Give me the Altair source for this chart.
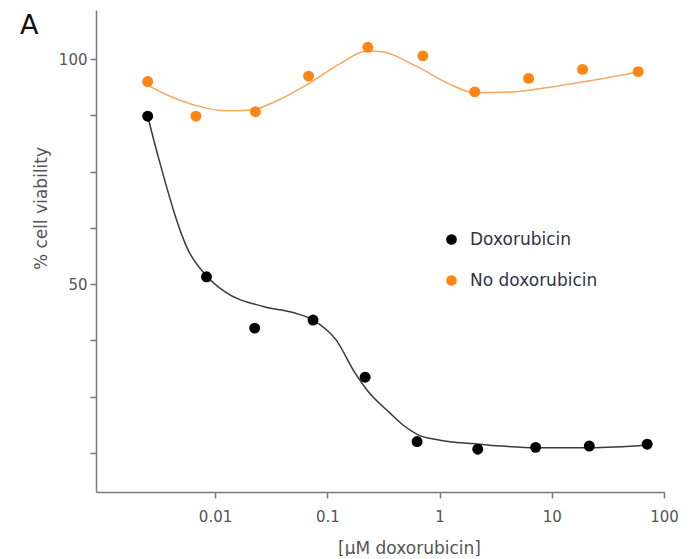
import altair as alt
import pandas as pd

# Measured points
dox_x = [0.00251, 0.00839, 0.02254, 0.0746, 0.2173, 0.631, 2.19, 7.18, 21.6, 70.8]
dox_y = [87.3, 51.6, 40.2, 42.0, 29.3, 15.0, 13.3, 13.7, 14.0, 14.4]
nodox_x = [0.00251, 0.00675, 0.0229, 0.0681, 0.2296, 0.710, 2.06, 6.22, 18.8, 58.9]
nodox_y = [95.0, 87.3, 88.3, 96.2, 102.6, 100.7, 92.7, 95.7, 97.7, 97.2]

# Fitted curves
dox_curve_x = [0.00251, 0.00317, 0.00574, 0.00839, 0.01219, 0.0268, 0.0506, 0.0746,
               0.1197, 0.177, 0.2265, 0.363, 0.483, 0.631, 1.01, 2.075, 3.47, 7.26, 22.0, 72.3]
dox_curve_y = [87.3, 77.6, 57.6, 51.8, 48.3, 45.0, 43.6, 42.0,
               37.6, 30.2, 26.4, 21.3, 18.5, 16.6, 15.3, 14.5, 14.0, 13.6, 13.6, 14.2]
nodox_curve_x = [0.00251, 0.00373, 0.0065, 0.01219, 0.02113, 0.034, 0.0689, 0.130,
                 0.2265, 0.3076, 0.631, 1.194, 2.06, 4.53, 10.0, 22.0, 56.5]
nodox_curve_y = [94.2, 92.0, 89.8, 88.5, 88.7, 90.5, 94.6, 99.0,
                 101.8, 101.6, 98.3, 94.6, 92.5, 92.7, 93.8, 95.2, 97.0]

series = ["Doxorubicin", "No doxorubicin"]
x_ticks = [0.01, 0.1, 1, 10, 100]
y_ticks = [12.5, 25, 37.5, 50, 62.5, 75, 87.5, 100]

pts = pd.DataFrame({
    "conc": dox_x + nodox_x,
    "via": dox_y + nodox_y,
    "group": [series[0]] * len(dox_x) + [series[1]] * len(nodox_x),
})
curves = pd.DataFrame({
    "conc": dox_curve_x + nodox_curve_x,
    "via": dox_curve_y + nodox_curve_y,
    "group": [series[0]] * len(dox_curve_x) + [series[1]] * len(nodox_curve_x),
})

FONT = "DejaVu Sans"
GREY = "#7a7a7a"

xscale = alt.Scale(type="log", domain=[0.000869, 100], nice=False)
yscale = alt.Scale(domain=[3.78, 110.9], nice=False, zero=False)

xaxis = alt.Axis(values=x_ticks, title="[μM doxorubicin]", grid=False,
                 labelExpr="datum.value >= 1 ? format(datum.value, 'd') : format(datum.value, '')",
                 labelFont=FONT, labelFontSize=15, labelColor="#555555",
                 titleFont=FONT, titleFontSize=17, titleFontWeight="normal", titleColor="#555555",
                 titleX=313, titleY=61, titleBaseline="alphabetic",
                 domainColor=GREY, domainWidth=1.5, tickColor=GREY, tickWidth=1.5, tickSize=6,
                 labelPadding=11, labelFlush=False)
yaxis = alt.Axis(values=y_ticks, title="% cell viability", grid=False,
                 labelExpr="(datum.value == 50 || datum.value == 100) ? format(datum.value, 'd') : ''",
                 labelFont=FONT, labelFontSize=15, labelColor="#555555",
                 titleFont=FONT, titleFontSize=17, titleFontWeight="normal", titleColor="#555555",
                 titleX=-50, titleY=198, titleAngle=270, titleBaseline="alphabetic",
                 domainColor=GREY, domainWidth=1.5, tickColor=GREY, tickWidth=1.5, tickSize=6,
                 labelPadding=3)

color = alt.Color("group:N", scale=alt.Scale(domain=series, range=["#000000", "#ff8514"]),
                  legend=alt.Legend(title=None, orient="none", legendX=347, legendY=221,
                                    symbolType="circle", symbolSize=115, symbolStrokeWidth=0,
                                    labelFont=FONT, labelFontSize=17, labelColor="#333344",
                                    labelOffset=10, rowPadding=23, padding=0))

lines = alt.Chart(curves).mark_line(interpolate="monotone").encode(
    x=alt.X("conc:Q", scale=xscale, axis=xaxis),
    y=alt.Y("via:Q", scale=yscale, axis=yaxis),
    color=alt.Color("group:N", scale=alt.Scale(domain=series, range=["#3a3a3a", "#f5a95e"]), legend=None),
    detail="group:N",
    strokeWidth=alt.value(1.5),
)

points = alt.Chart(pts).mark_circle(size=120, opacity=1).encode(
    x=alt.X("conc:Q", scale=xscale, axis=xaxis),
    y=alt.Y("via:Q", scale=yscale, axis=yaxis),
    color=color,
)

label_a = alt.Chart(pd.DataFrame({"t": ["A"]})).mark_text(
    font=FONT, fontSize=27, color="#111111", align="left", baseline="alphabetic"
).encode(x=alt.value(-76), y=alt.value(24), text="t:N")

chart = alt.layer(lines, points, label_a).resolve_scale(color="independent").properties(
    width=568, height=482,
    autosize=alt.AutoSizeParams(type="none"),
    padding={"left": 88, "top": 2, "right": 17, "bottom": 64},
).configure(background="white").configure_view(stroke=None)

chart.save("out.html", embed_options={"renderer": "svg", "actions": False})
